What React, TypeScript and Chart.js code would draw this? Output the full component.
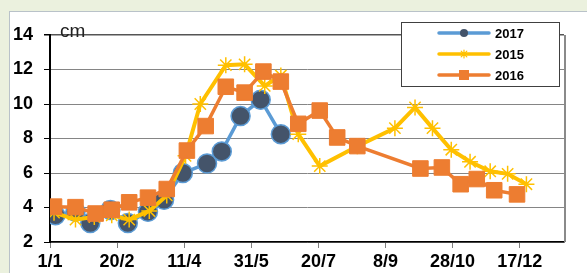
import React, { useEffect, useRef } from 'react';
import { Chart, registerables } from 'chart.js';

Chart.register(...registerables);

// x = days since 1 January
const xTickLabels = ['1/1', '20/2', '11/4', '31/5', '20/7', '8/9', '28/10', '17/12'];
const yTicks = [2, 4, 6, 8, 10, 12, 14];

const days2017 = [4, 19, 30, 45, 58, 73, 85, 99, 117, 128, 142, 157, 172];
const vals2017 = [3.55, 3.75, 3.1, 3.85, 3.1, 3.75, 4.45, 6.0, 6.55, 7.25, 9.3, 10.25, 8.25];

const days2015 = [3, 19, 33, 46, 59, 74, 87, 101, 112, 131, 145, 160, 172, 185, 201, 229, 257, 272, 285, 299, 313, 328, 341, 355];
const vals2015 = [3.7, 3.3, 3.45, 3.55, 3.3, 3.8, 4.7, 7.0, 10.0, 12.25, 12.3, 11.05, 11.65, 8.25, 6.4, 7.55, 8.6, 9.8, 8.6, 7.35, 6.65, 6.1, 5.95, 5.35];

const days2016 = [3, 19, 34, 46, 59, 73, 87, 102, 116, 131, 145, 159, 172, 185, 201, 214, 229, 276, 292, 306, 318, 331, 348];
const vals2016 = [4.05, 4.02, 3.65, 3.87, 4.3, 4.57, 5.07, 7.3, 8.72, 11.0, 10.66, 11.88, 11.3, 8.85, 9.62, 8.06, 7.56, 6.26, 6.32, 5.35, 5.65, 5.0, 4.76];

const seriesNames = ['2017', '2015', '2016'];

const BLUE = '#5b9bd5';
const NAVY = '#44546a';
const YELLOW = '#ffc000';
const ORANGE = '#ed7d31';

function pts(xs: number[], ys: number[]) {
  return xs.map((x, i) => ({ x, y: ys[i] }));
}

function drawStar(c: CanvasRenderingContext2D, x: number, y: number, r: number) {
  c.beginPath();
  c.moveTo(x - r, y); c.lineTo(x + r, y);
  c.moveTo(x, y - r); c.lineTo(x, y + r);
  const d = r * Math.SQRT1_2;
  c.moveTo(x - d, y - d); c.lineTo(x + d, y + d);
  c.moveTo(x - d, y + d); c.lineTo(x + d, y - d);
  c.stroke();
}

export default function App() {
  const ref = useRef<HTMLCanvasElement>(null);

  useEffect(() => {
    document.body.style.margin = '0';
    document.body.style.background = '#ebf1de';
    const canvas = ref.current;
    if (!canvas) return;

    const framePlugin = {
      id: 'frame',
      beforeDraw(chart: any) {
        const c = chart.ctx as CanvasRenderingContext2D;
        c.save();
        c.fillStyle = '#ebf1de';
        c.fillRect(0, 0, 587, 273);
        c.fillStyle = '#ffffff';
        c.fillRect(9, 12, 700, 400);
        c.strokeStyle = '#b9c2c9';
        c.lineWidth = 1;
        c.strokeRect(9.5, 11.5, 700, 400);
        c.restore();
      },
      afterDraw(chart: any) {
        const c = chart.ctx as CanvasRenderingContext2D;
        const a = chart.chartArea;
        c.save();
        // right border of plot
        c.strokeStyle = '#8a8a8a';
        c.lineWidth = 2;
        c.beginPath();
        c.moveTo(a.right + 1, a.top);
        c.lineTo(a.right + 1, a.bottom);
        c.stroke();
        // unit label
        c.fillStyle = '#222';
        c.font = '19px Arial, "Liberation Sans", sans-serif';
        c.textBaseline = 'alphabetic';
        c.textAlign = 'left';
        c.fillText('cm', 60, 37);
        // legend
        const bx = 401, by = 22, bw = 158, bh = 64;
        c.fillStyle = '#fff';
        c.fillRect(bx, by, bw, bh);
        c.strokeStyle = '#404040';
        c.lineWidth = 1;
        c.strokeRect(bx + 0.5, by + 0.5, bw, bh);
        const rows = [33, 54, 75];
        const colors = [BLUE, YELLOW, ORANGE];
        rows.forEach((y, i) => {
          c.strokeStyle = colors[i];
          c.lineWidth = 3.5;
          c.lineCap = 'round';
          c.beginPath();
          c.moveTo(439, y);
          c.lineTo(489, y);
          c.stroke();
          const mx = 464;
          if (i === 0) {
            c.fillStyle = NAVY;
            c.beginPath();
            c.arc(mx, y, 4, 0, Math.PI * 2);
            c.fill();
          } else if (i === 1) {
            c.strokeStyle = YELLOW;
            c.lineWidth = 1.2;
            drawStar(c, mx, y, 4);
          } else {
            c.fillStyle = ORANGE;
            c.fillRect(mx - 5, y - 5, 10, 10);
          }
          c.fillStyle = '#000';
          c.font = 'bold 13px Arial, "Liberation Sans", sans-serif';
          c.textBaseline = 'middle';
          c.textAlign = 'left';
          c.fillText(seriesNames[i], 495, y + 1);
        });
        c.restore();
      },
    };

    const chart = new Chart(canvas, {
      type: 'line',
      data: {
        datasets: [
          {
            label: seriesNames[0],
            data: pts(days2017, vals2017),
            borderColor: BLUE,
            borderWidth: 3.5,
            backgroundColor: NAVY,
            pointBackgroundColor: NAVY,
            pointBorderColor: BLUE,
            pointBorderWidth: 1.5,
            pointStyle: 'circle',
            pointRadius: 9.5,
            order: 2,
          },
          {
            label: seriesNames[1],
            data: pts(days2015, vals2015),
            borderColor: YELLOW,
            borderWidth: 4,
            backgroundColor: YELLOW,
            pointBorderColor: YELLOW,
            pointBorderWidth: 1.5,
            pointStyle: 'star',
            pointRadius: 8,
            order: 1,
          },
          {
            label: seriesNames[2],
            data: pts(days2016, vals2016),
            borderColor: ORANGE,
            borderWidth: 3.5,
            backgroundColor: ORANGE,
            pointBackgroundColor: ORANGE,
            pointBorderColor: ORANGE,
            pointBorderWidth: 1,
            pointStyle: 'rect',
            pointRadius: 11,
            order: 0,
          },
        ],
      },
      options: {
        responsive: false,
        animation: false,
        devicePixelRatio: 1,
        layout: { padding: { left: 0, top: 35, right: 23, bottom: 0 } },
        elements: { line: { tension: 0 } },
        plugins: {
          legend: { display: false },
          tooltip: { enabled: false },
          title: { display: false },
        },
        scales: {
          x: {
            type: 'linear',
            min: 0,
            max: 383,
            afterFit(scale: any) { scale.height = 31; },
            grid: { drawOnChartArea: false, drawTicks: true, tickLength: 6, tickColor: '#7f7f7f' },
            border: { display: true, color: '#000', width: 1.5 },
            ticks: {
              stepSize: 50,
              includeBounds: false,
              autoSkip: false,
              maxRotation: 0,
              padding: 3,
              color: '#000',
              font: { family: 'Arial, "Liberation Sans", sans-serif', size: 18, weight: 'bold' },
              callback: (v: any) => {
                const i = Math.round(Number(v) / 50);
                return Number(v) % 50 === 0 && xTickLabels[i] ? xTickLabels[i] : '';
              },
            },
          },
          y: {
            type: 'linear',
            min: yTicks[0],
            max: yTicks[yTicks.length - 1],
            afterFit(scale: any) { scale.width = 50; },
            grid: {
              color: (ctx: any) => (ctx.tick && ctx.tick.value === 14 ? '#555' : '#858585'),
              lineWidth: (ctx: any) => (ctx.tick && ctx.tick.value === 14 ? 1.5 : 1),
              tickLength: 6,
              tickColor: '#000',
            },
            border: { display: true, color: '#000', width: 2 },
            ticks: {
              stepSize: 2,
              padding: 11,
              color: '#000',
              font: { family: 'Arial, "Liberation Sans", sans-serif', size: 18, weight: 'bold' },
            },
          },
        },
      },
      plugins: [framePlugin],
    } as any);

    return () => chart.destroy();
  }, []);

  return <canvas ref={ref} width={587} height={273} style={{ display: 'block', width: 587, height: 273 }} />;
}
